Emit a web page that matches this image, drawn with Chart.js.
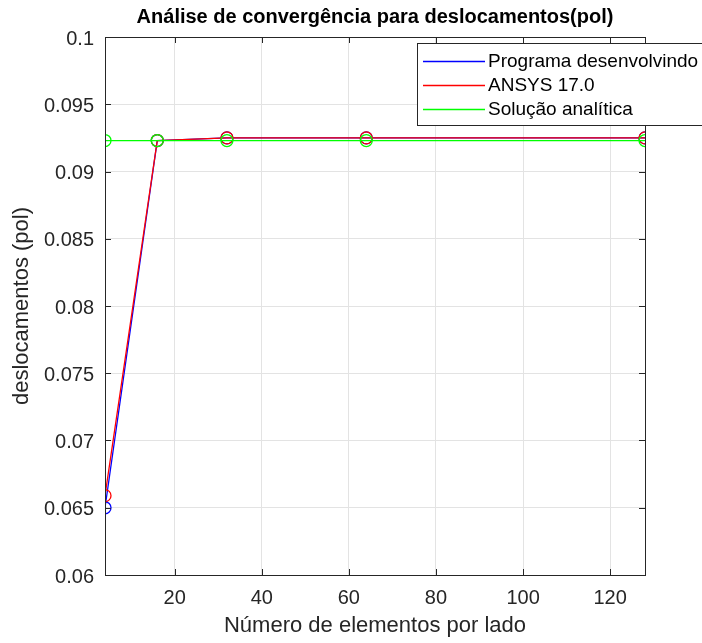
<!DOCTYPE html>
<html>
<head>
<meta charset="utf-8">
<script src="https://cdn.jsdelivr.net/npm/chart.js@4/dist/chart.umd.min.js"></script>
<style>
  html, body { margin: 0; padding: 0; background: #fff; }
  #wrap { width: 702px; height: 643px; }
</style>
</head>
<body>
<div id="wrap"><canvas id="chart"></canvas></div>
<script>
// ---- data ----
const elementos = [4, 16, 32, 64, 128];
const programa = [0.0650, 0.0923, 0.0925, 0.0925, 0.0925];
const ansys = [0.0659, 0.0923, 0.0925, 0.0925, 0.0925];
const analitica = [0.0923, 0.0923, 0.0923, 0.0923, 0.0923];
const xTicks = [20, 40, 60, 80, 100, 120];
const nomes = ['Programa desenvolvindo', 'ANSYS 17.0', 'Solução analítica'];
const cores = ['#0000ff', '#ff0000', '#00ff00'];

const FONT = "'Liberation Sans', Arial, Helvetica, sans-serif";

function toPoints(ys) {
    return elementos.map((x, i) => ({ x: x, y: ys[i] }));
}

function serie(i, ys) {
    return {
        label: nomes[i],
        data: toPoints(ys),
        borderColor: cores[i],
        backgroundColor: 'rgba(0,0,0,0)',
        borderWidth: 1.3,
        pointRadius: 6,
        pointHoverRadius: 6,
        pointBorderWidth: 1.3,
        pointBorderColor: cores[i],
        showLine: true,
        tension: 0,
        order: 3 - i  // last series on top, like matlab
    };
}

// box, inward ticks, title and legend like matlab
const matlabBox = {
    id: 'matlabBox',
    afterDraw(chart) {
        const ctx = chart.ctx;
        const a = chart.chartArea;
        const xs = chart.scales.x, ys = chart.scales.y;
        ctx.save();
        ctx.strokeStyle = '#262626';
        ctx.lineWidth = 1;
        ctx.strokeRect(Math.round(a.left) + 0.5, Math.round(a.top) + 0.5,
            Math.round(a.right - a.left), Math.round(a.bottom - a.top));
        // ticks
        ctx.beginPath();
        xs.ticks.forEach(t => {
            const px = Math.round(xs.getPixelForValue(t.value)) + 0.5;
            ctx.moveTo(px, a.bottom); ctx.lineTo(px, a.bottom - 6);
            ctx.moveTo(px, a.top); ctx.lineTo(px, a.top + 6);
        });
        ys.ticks.forEach(t => {
            const py = Math.round(ys.getPixelForValue(t.value)) + 0.5;
            ctx.moveTo(a.left, py); ctx.lineTo(a.left + 6, py);
            ctx.moveTo(a.right, py); ctx.lineTo(a.right - 6, py);
        });
        ctx.stroke();

        // title
        ctx.fillStyle = '#000';
        ctx.font = 'bold 20px ' + FONT;
        ctx.textAlign = 'center';
        ctx.textBaseline = 'middle';
        ctx.fillText('Análise de convergência para deslocamentos(pol)', (a.left + a.right) / 2, 17);

        // legend (sticks out past the right edge, as in the original)
        const lx = 417, ly = 43, lw = 300, lh = 82;
        ctx.fillStyle = '#fff';
        ctx.fillRect(lx, ly, lw, lh);
        ctx.strokeStyle = '#262626';
        ctx.lineWidth = 1;
        ctx.strokeRect(lx + 0.5, ly + 0.5, lw, lh);
        ctx.font = '19px ' + FONT;
        ctx.textAlign = 'left';
        nomes.forEach((nome, i) => {
            const yy = ly + 18 + i * 24;
            ctx.strokeStyle = cores[i];
            ctx.lineWidth = 1.3;
            ctx.beginPath();
            ctx.moveTo(lx + 6, yy + 0.5);
            ctx.lineTo(lx + 68, yy + 0.5);
            ctx.stroke();
            ctx.fillStyle = '#000';
            ctx.fillText(nome, lx + 71, yy + 1);
        });
        ctx.restore();
    }
};

new Chart(document.getElementById('chart'), {
    type: 'scatter',
    data: {
        datasets: [
            serie(0, programa),
            serie(1, ansys),
            serie(2, analitica)
        ]
    },
    options: {
        responsive: true,
        maintainAspectRatio: false,
        animation: false,
        layout: { padding: { top: 37, right: 57, left: 0, bottom: 0 } },
        plugins: {
            legend: { display: false },
            tooltip: { enabled: false }
        },
        scales: {
            x: {
                type: 'linear',
                min: 4,
                max: 128,
                afterBuildTicks: s => { s.ticks = xTicks.map(v => ({ value: v })); },
                afterFit: s => { s.height = 68; },
                grid: { color: '#e3e3e3', drawTicks: false },
                border: { display: false },
                ticks: {
                    padding: 11,
                    color: '#262626',
                    font: { family: FONT, size: 20 }
                },
                title: {
                    display: true,
                    text: 'Número de elementos por lado',
                    color: '#262626',
                    font: { family: FONT, size: 22 },
                    padding: { top: 0, bottom: 4 }
                }
            },
            y: {
                min: 0.06,
                max: 0.1,
                afterFit: s => { s.width = 105; },
                grid: { color: '#e3e3e3', drawTicks: false },
                border: { display: false },
                ticks: {
                    stepSize: 0.005,
                    padding: 11,
                    labelOffset: 2,
                    color: '#262626',
                    font: { family: FONT, size: 20 },
                    callback: v => String(Number(v.toFixed(3)))
                },
                title: {
                    display: true,
                    text: 'deslocamentos (pol)',
                    color: '#262626',
                    font: { family: FONT, size: 22 },
                    padding: { top: 9, bottom: 0 }
                }
            }
        }
    },
    plugins: [matlabBox]
});
</script>
</body>
</html>
